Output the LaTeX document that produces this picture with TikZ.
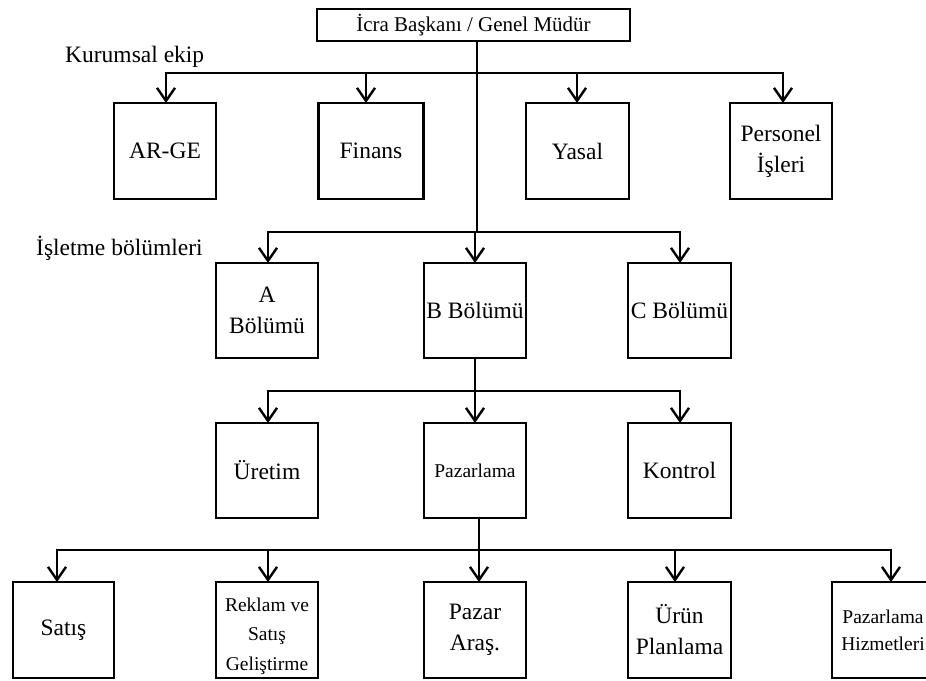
\documentclass[tikz,border=0pt]{standalone}
\usepackage{fontspec}
\setmainfont{Liberation Serif}
\usetikzlibrary{arrows.meta}
\tikzset{barb/.tip={Straight Barb[length=13pt,width=18pt,line width=2.4pt]}}
\begin{document}
\begin{tikzpicture}[x=1pt,y=-1pt,
  unit/.style={draw,line width=2.4pt,inner sep=0pt,outer sep=0pt,align=center,
    minimum width=102pt,minimum height=96pt,font=\fontsize{23.5}{31}\selectfont},
  smallunit/.style={unit,font=\fontsize{19.5}{27}\selectfont},
  smalltext/.style={inner sep=0pt,align=center,font=\fontsize{19.5}{29.5}\selectfont},
  bus/.style={line width=2.4pt},
  arr/.style={line width=2.4pt,-{barb}},
  arrboth/.style={line width=2.4pt,{barb}-{barb}},
  lbl/.style={anchor=base west,inner sep=0pt,font=\fontsize{23.5}{28}\selectfont}]
\useasboundingbox (0,0) rectangle (926,680);

% head of the organisation
\node[unit,minimum width=313pt,minimum height=32pt,font=\fontsize{21}{26}\selectfont]
  (head) at (473.5,25) {İcra Başkanı / Genel Müdür};

% corporate staff
\node[lbl] (kurumsal) at (65,62) {Kurumsal ekip};
\node[unit] (arge) at (165,151) {AR-GE};
\node[unit,minimum width=105pt] (finans) at (371,151) {Finans};
\node[unit,minimum width=103pt] (yasal) at (577.5,151) {Yasal};
\node[unit] (personel) at (781,151) {Personel\\İşleri};

% operating divisions
\node[lbl] (isletme) at (36,255) {İşletme bölümleri};
\node[unit,minimum height=95pt] (bola) at (267,310.5) {A\\Bölümü};
\node[unit,minimum height=95pt] (bolb) at (475,310.5) {B Bölümü};
\node[unit,minimum height=95pt,minimum width=103pt] (bolc) at (679.5,310.5) {C Bölümü};

% functions of division B
\node[unit,minimum height=95pt] (uretim) at (267,470.5) {Üretim};
\node[smallunit,minimum height=95pt] (pazarlama) at (475,470.5) {Pazarlama};
\node[unit,minimum height=95pt,minimum width=103pt] (kontrol) at (679.5,470.5) {Kontrol};

% marketing departments
\node[unit,minimum width=101pt] (satis) at (63.5,630) {Satış};
\node[unit] (reklam) at (267,630) {};
\node[smalltext] (reklamtext) at ([yshift=-6pt]reklam.center) {Reklam ve\\Satış\\Geliştirme};
\node[unit] (pazar) at (475,630) {Pazar\\Araş.};
\node[unit,minimum width=103pt] (urun) at (679.5,630) {Ürün\\Planlama};
\node[smallunit] (hizmet) at (883,630) {Pazarlama\\Hizmetleri};

% bus coordinates
\coordinate (k1) at (166,73);
\coordinate (k2) at (366,73);
\coordinate (k3) at (577,73);
\coordinate (k4) at (783,73);
\coordinate (trunk) at (477,232);
\coordinate (d1) at (268,232);
\coordinate (d3) at (680,232);
\coordinate (f1) at (268,391);
\coordinate (f2) at (475,391);
\coordinate (f3) at (680,391);
\coordinate (m1) at (57,550);
\coordinate (m2) at (268,550);
\coordinate (m3) at (479,550);
\coordinate (m4) at (675,550);
\coordinate (m5) at (891,550);

% head to staff and divisions
\draw[bus] (trunk |- head.south) -- (trunk);
\draw[arrboth] (k1 |- arge.north) -- (k1) -- (k4) -- (k4 |- personel.north);
\draw[arr] (k2) -- (k2 |- finans.north);
\draw[arr] (k3) -- (k3 |- yasal.north);
\draw[arrboth] (d1 |- bola.north) -- (d1) -- (d3) -- (d3 |- bolc.north);
\draw[arr] (trunk -| bolb) -- (bolb.north);

% division B to its functions
\draw[bus] (f2 |- bolb.south) -- (f2);
\draw[arrboth] (f1 |- uretim.north) -- (f1) -- (f3) -- (f3 |- kontrol.north);
\draw[arr] (f2) -- (f2 |- pazarlama.north);

% marketing to its departments
\draw[bus] (m3 |- pazarlama.south) -- (m3);
\draw[arrboth] (m1 |- satis.north) -- (m1) -- (m5) -- (m5 |- hizmet.north);
\draw[arr] (m2) -- (m2 |- reklam.north);
\draw[arr] (m3) -- (m3 |- pazar.north);
\draw[arr] (m4) -- (m4 |- urun.north);
\end{tikzpicture}
\end{document}
